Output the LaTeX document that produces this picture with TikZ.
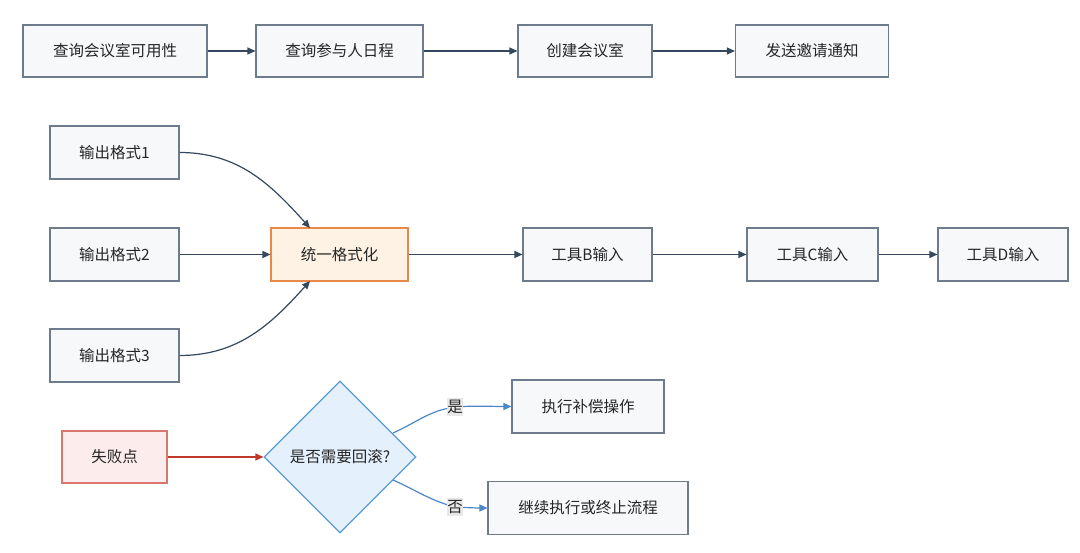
\documentclass[tikz,border=0pt]{standalone}
\usepackage{fontspec}
\setmainfont{Noto Sans CJK SC}
\usetikzlibrary{arrows.meta,shapes.geometric}
\definecolor{boxfill}{HTML}{F7F8FA}
\definecolor{boxdraw}{HTML}{6E7B8C}
\definecolor{arrowc}{HTML}{34495E}
\definecolor{orfill}{HTML}{FDF2E4}
\definecolor{ordraw}{HTML}{E8894A}
\definecolor{rdfill}{HTML}{FDECEC}
\definecolor{rddraw}{HTML}{D9776F}
\definecolor{rdarrow}{HTML}{C0392B}
\definecolor{blfill}{HTML}{E4F1FD}
\definecolor{bldraw}{HTML}{5B9BD5}
\definecolor{blarrow}{HTML}{4A86C8}
\definecolor{lblfill}{HTML}{E8E8E8}
\tikzset{
  box/.style={draw=boxdraw, fill=boxfill, line width=1.1pt, minimum height=53pt, inner sep=0pt, font=\fontsize{15.5}{18}\selectfont, text=black!85},
  orbox/.style={box, draw=ordraw, fill=orfill},
  rdbox/.style={box, draw=rddraw, fill=rdfill},
  dia/.style={diamond, aspect=1, draw=bldraw, fill=blfill, line width=1.1pt, inner sep=0pt, minimum width=152pt, minimum height=152pt, font=\fontsize{15.5}{18}\selectfont, text=black!85},
  arr/.style={draw=arrowc, line width=1.2pt, -{Triangle[length=8pt,width=7pt]}},
  rarr/.style={arr, draw=rdarrow, -{Triangle[length=8pt,width=7pt,fill=rdarrow]}},
  barr/.style={arr, draw=blarrow, -{Triangle[length=8pt,width=7pt,fill=blarrow]}},
  lbl/.style={fill=lblfill, inner xsep=0.5pt, inner ysep=2.5pt, font=\fontsize{15.5}{18}\selectfont, text=black!85},
}
\begin{document}
\begin{tikzpicture}[x=1pt,y=-1pt]
\useasboundingbox (0,0) rectangle (1080,553);
% top row
\node[box, minimum width=184pt, minimum height=52pt] (q1) at (115,51) {查询会议室可用性};
\node[box, minimum width=167pt, minimum height=52pt] (q2) at (339.5,51) {查询参与人日程};
\node[box, minimum width=134pt, minimum height=52pt] (q3) at (585,51) {创建会议室};
\node[box, minimum width=153pt, minimum height=52pt] (q4) at (812,51) {发送邀请通知};
\draw[arr] (q1) -- (q2);
\draw[arr] (q2) -- (q3);
\draw[arr] (q3) -- (q4);
% middle
\node[box, minimum width=129pt] (f1) at (114.5,152.5) {输出格式1};
\node[box, minimum width=129pt] (f2) at (114.5,254.5) {输出格式2};
\node[box, minimum width=129pt] (f3) at (114.5,355.5) {输出格式3};
\node[orbox, minimum width=137pt] (u) at (339.5,254.5) {统一格式化};
\node[box, minimum width=129pt] (tb) at (587.5,254.5) {工具B输入};
\node[box, minimum width=131pt] (tc) at (812.5,254.5) {工具C输入};
\node[box, minimum width=130pt] (td) at (1003,254.5) {工具D输入};
\coordinate (uin1) at (310,228);
\coordinate (uin3) at (310,281);
\draw[arr] (f1.east) to[out=0,in=132] (uin1);
\draw[arr] (f2) -- (u);
\draw[arr] (f3.east) to[out=0,in=-132] (uin3);
\draw[arr] (u) -- (tb);
\draw[arr] (tb) -- (tc);
\draw[arr] (tc) -- (td);
% bottom
\node[rdbox, minimum width=105pt, minimum height=52pt] (fail) at (114.5,457) {失败点};
\node[dia] (d) at (340,457) {是否需要回滚?};
\node[box, minimum width=152pt] (comp) at (588,406.5) {执行补偿操作};
\node[box, minimum width=200pt] (cont) at (588,508) {继续执行或终止流程};
\draw[rarr] (fail) -- (d);
\coordinate (dy) at (393,433);
\coordinate (dn) at (393,480);
\coordinate (ly) at (455,407);
\coordinate (ln) at (455,507);
\draw[barr] (dy) to[out=24,in=188] (ly) to[out=4,in=180] (comp.west);
\draw[barr] (dn) to[out=-24,in=165] (ln) to[out=-3,in=180] (cont.west);
\node[lbl] (lyes) at (ly) {是};
\node[lbl] (lno) at (ln) {否};
\end{tikzpicture}
\end{document}
